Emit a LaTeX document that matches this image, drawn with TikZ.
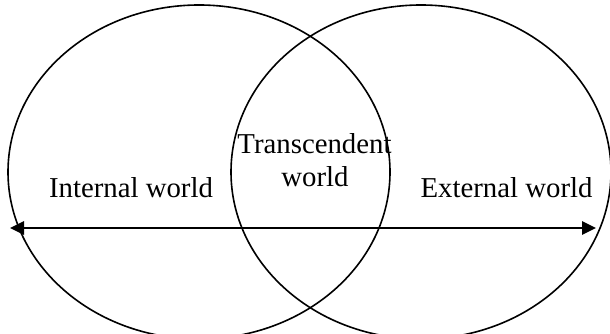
\documentclass[tikz,border=0pt]{standalone}
\usepackage{fontspec}
\setmainfont{Liberation Serif}
\usetikzlibrary{shapes.geometric,arrows.meta}
\tikzset{
  world/.style={ellipse, draw, line width=1.6pt, inner sep=0pt, minimum height=334pt},
  lbl/.style={anchor=base, inner sep=0pt, font=\fontsize{28.8}{33}\selectfont},
  axis/.style={line width=2.6pt, {Triangle[length=14pt,width=13pt]}-{Triangle[length=14pt,width=13pt]}}
}
\begin{document}
\begin{tikzpicture}[x=1pt,y=1pt]
\useasboundingbox (0,0) rectangle (610,334);
\node[world, minimum width=382pt] (L) at (199,162) {};
\node[world, minimum width=380pt] (R) at (421,162) {};
\coordinate (a) at (10,106);
\coordinate (b) at (596,106);
\draw[axis] (a) -- (b);
\node[lbl] (int) at (131,136) {Internal world};
\node[lbl] (ext) at (506.5,136) {External world};
\node[lbl] (tr1) at (314.5,180) {Transcendent};
\node[lbl] (tr2) at (315,147) {world};
\end{tikzpicture}
\end{document}
